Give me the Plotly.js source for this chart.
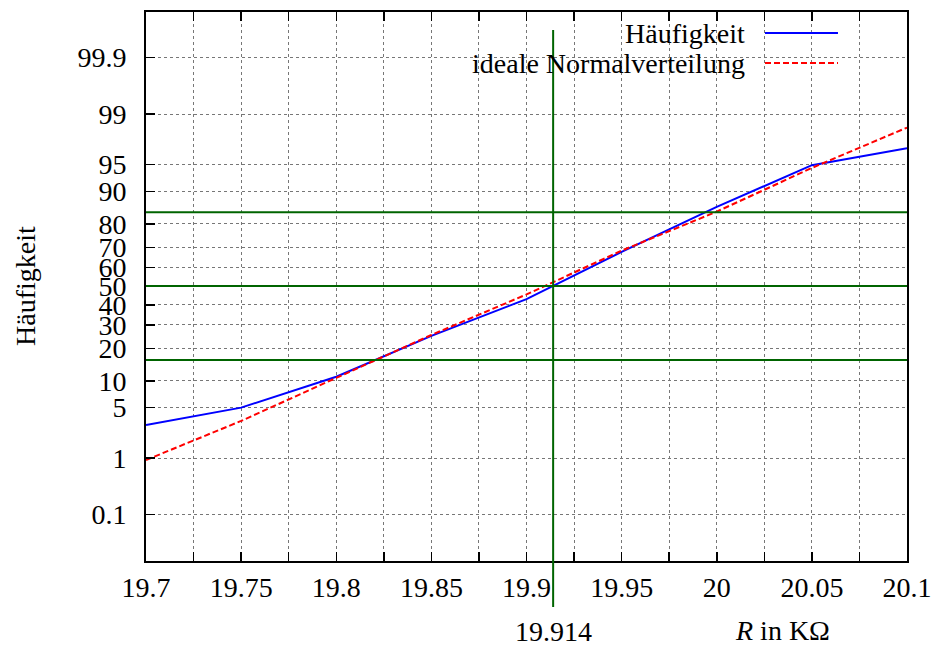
<!DOCTYPE html>
<html>
<head>
<meta charset="utf-8">
<script src="https://cdn.plot.ly/plotly-3.0.1.min.js"></script>
<style>
html,body{margin:0;padding:0;background:#fff;}
#chart{width:938px;height:648px;}
</style>
</head>
<body>
<div id="chart"></div>
<script>
// ---- data ----
const resistance = [19.7, 19.75, 19.8, 19.85, 19.9, 19.95, 20.0, 20.05, 20.1];          // R in kOhm
const haeufigkeit = [3.0, 5.0, 11.0, 25.0, 43.0, 67.8, 85.8, 94.9, 96.9];               // cumulative %
const idealNormal = [0.93, 3.4, 10.7, 25.4, 45.5, 68.4, 84.3, 94.5, 98.4];              // cumulative %
const meanValue = 19.914;
const sigmaLevels = [15.87, 50, 84.13];                                                 // % (mean -1s, mean, mean +1s)
const yTickPercent = [0.1, 1, 5, 10, 20, 30, 40, 50, 60, 70, 80, 90, 95, 99, 99.9];
const yTickLabels = ["0.1", "1", "5", "10", "20", "30", "40", "50", "60", "70", "80", "90", "95", "99", "99.9"];
const xTickVals = [19.7, 19.75, 19.8, 19.85, 19.9, 19.95, 20.0, 20.05, 20.1];
const xTickLabels = ["19.7", "19.75", "19.8", "19.85", "19.9", "19.95", "20", "20.05", "20.1"];

// probability-paper transform: percent -> standard normal quantile
function probit(pct) {
  const p = pct / 100;
  const a = [-3.969683028665376e+01, 2.209460984245205e+02, -2.759285104469687e+02, 1.383577518672690e+02, -3.066479806614716e+01, 2.506628277459239e+00];
  const b = [-5.447609879822406e+01, 1.615858368580409e+02, -1.556989798598866e+02, 6.680131188771972e+01, -1.328068155288572e+01];
  const c = [-7.784894002430293e-03, -3.223964580411365e-01, -2.400758277161838e+00, -2.549732539343734e+00, 4.374664141464968e+00, 2.938163982698783e+00];
  const d = [7.784695709041462e-03, 3.224671290700398e-01, 2.445134137142996e+00, 3.754408661907416e+00];
  const pl = 0.02425, ph = 1 - pl;
  let q, r;
  if (p < pl) {
    q = Math.sqrt(-2 * Math.log(p));
    return (((((c[0]*q+c[1])*q+c[2])*q+c[3])*q+c[4])*q+c[5]) / ((((d[0]*q+d[1])*q+d[2])*q+d[3])*q+1);
  } else if (p <= ph) {
    q = p - 0.5; r = q * q;
    return (((((a[0]*r+a[1])*r+a[2])*r+a[3])*r+a[4])*r+a[5])*q / (((((b[0]*r+b[1])*r+b[2])*r+b[3])*r+b[4])*r+1);
  } else {
    q = Math.sqrt(-2 * Math.log(1 - p));
    return -(((((c[0]*q+c[1])*q+c[2])*q+c[3])*q+c[4])*q+c[5]) / ((((d[0]*q+d[1])*q+d[2])*q+d[3])*q+1);
  }
}

const FONT = "Liberation Serif";
const GREEN = "#006400";
const GRID = "#777777";
const REDDASH = "6px,3px";

const traces = [
  {x: resistance, y: haeufigkeit.map(probit), type: "scatter", mode: "lines", name: "Häufigkeit",
   line: {color: "#0000ff", width: 2}, showlegend: false},
  {x: resistance, y: idealNormal.map(probit), type: "scatter", mode: "lines", name: "ideale Normalverteilung",
   line: {color: "#ff0000", width: 2, dash: REDDASH}, showlegend: false}
];

const shapes = [];
// legend background (covers grid, below data)
shapes.push({type: "rect", xref: "paper", yref: "paper", x0: 0.2943, x1: 0.929, y0: 0.878, y1: 0.9836,
  fillcolor: "#ffffff", line: {width: 0}, layer: "between"});
// sigma level lines
sigmaLevels.forEach(p => shapes.push({type: "line", xref: "paper", yref: "y", x0: 0, x1: 1,
  y0: probit(p), y1: probit(p), line: {color: GREEN, width: 2}, layer: "above"}));
// mean vertical line
shapes.push({type: "line", xref: "x", yref: "paper", x0: meanValue, x1: meanValue, y0: -0.0838, y1: 0.967,
  line: {color: GREEN, width: 2}, layer: "above"});
// legend samples
shapes.push({type: "line", xref: "paper", yref: "paper", x0: 0.8134, x1: 0.9093, y0: 0.9617, y1: 0.9617,
  line: {color: "#0000ff", width: 2}, layer: "above"});
shapes.push({type: "line", xref: "paper", yref: "paper", x0: 0.8134, x1: 0.9093, y0: 0.9071, y1: 0.9071,
  line: {color: "#ff0000", width: 2, dash: REDDASH}, layer: "above"});

const annotations = [
  {text: "Häufigkeit", xref: "paper", yref: "paper", x: 0.7898, y: 0.9617, xanchor: "right", yanchor: "middle",
   showarrow: false, font: {family: FONT, size: 28, color: "#000"}},
  {text: "ideale Normalverteilung", xref: "paper", yref: "paper", x: 0.7898, y: 0.9071, xanchor: "right", yanchor: "middle",
   showarrow: false, font: {family: FONT, size: 28, color: "#000"}},
  {text: "Häufigkeit", xref: "paper", yref: "paper", x: 0, xshift: -121, y: 0.5009, textangle: -90,
   xanchor: "center", yanchor: "middle", showarrow: false, font: {family: FONT, size: 28, color: "#000"}},
  {text: "<i>R</i> in KΩ", xref: "paper", yref: "paper", x: 0.837, y: 0, yshift: -69, xanchor: "center", yanchor: "middle",
   showarrow: false, font: {family: FONT, size: 28, color: "#000"}},
  {text: String(meanValue), xref: "x", yref: "paper", x: meanValue, y: 0, yshift: -70, xanchor: "center", yanchor: "middle",
   showarrow: false, font: {family: FONT, size: 28, color: "#000"}}
];

const layout = {
  width: 938, height: 648,
  margin: {l: 146, r: 31, t: 12, b: 87, pad: 0},
  paper_bgcolor: "#fff", plot_bgcolor: "#fff",
  showlegend: false,
  font: {family: FONT, size: 28, color: "#000"},
  xaxis: {
    range: [19.7, 20.1], tickmode: "array", tickvals: xTickVals, ticktext: xTickLabels,
    ticks: "inside", ticklen: 9, tickwidth: 1.5, tickcolor: "#000",
    showline: true, linecolor: "#000", linewidth: 2, mirror: "ticks",
    showgrid: true, gridcolor: GRID, griddash: "dot", gridwidth: 1,
    zeroline: false, ticklabelstandoff: 0,
    minor: {tick0: 19.725, dtick: 0.05, ticks: "inside", ticklen: 9, tickcolor: "#000", tickwidth: 1.5,
            showgrid: true, gridcolor: GRID, griddash: "dot", gridwidth: 1},
    tickfont: {family: FONT, size: 28, color: "#000"}, fixedrange: true
  },
  yaxis: {
    range: [-3.72, 3.708], tickmode: "array", tickvals: yTickPercent.map(probit), ticktext: yTickLabels,
    ticks: "inside", ticklen: 9, tickwidth: 1.5, tickcolor: "#000",
    showline: true, linecolor: "#000", linewidth: 2, mirror: true,
    showgrid: true, gridcolor: GRID, griddash: "dot", gridwidth: 1,
    zeroline: false, ticklabelstandoff: 12,
    tickfont: {family: FONT, size: 28, color: "#000"}, fixedrange: true
  },
  shapes: shapes,
  annotations: annotations
};

Plotly.newPlot("chart", traces, layout, {displayModeBar: false, staticPlot: true});
</script>
</body>
</html>
